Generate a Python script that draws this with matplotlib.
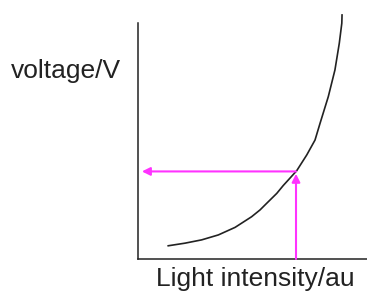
import matplotlib
matplotlib.use("Agg")
from matplotlib import pyplot as plt

# curve (light intensity / voltage, arbitrary units)
intensity = [1.32, 2.05, 2.78, 3.51, 4.24, 4.96, 5.33, 5.62, 6.06, 6.34, 6.93, 7.37, 7.73,
             7.95, 8.31, 8.60, 8.79, 8.90, 8.91]
voltage = [0.56, 0.67, 0.81, 1.02, 1.34, 1.79, 2.08, 2.36, 2.78, 3.11, 3.74, 4.41, 5.04,
           5.75, 6.88, 8.01, 9.14, 9.99, 10.34]
read_x = 6.90
read_y = 3.71
xlabel = "Light intensity/au"
ylabel = "voltage/V"

plt.rcParams['font.family'] = ['Liberation Sans', 'DejaVu Sans']

fig = plt.figure(figsize=(3.67, 2.91), dpi=100)
ax = fig.add_axes([0.376, 0.110, 0.624, 0.811])
ax.set_xlim(0, 10)
ax.set_ylim(0, 10)
ax.spines['top'].set_visible(False)
ax.spines['right'].set_visible(False)
for s in ['left', 'bottom']:
    ax.spines[s].set_color('#222222')
    ax.spines[s].set_linewidth(1.1)
ax.set_xticks([])
ax.set_yticks([])

ax.plot(intensity, voltage, color='#222222', lw=1.2, clip_on=False,
        solid_joinstyle='round')

pink = '#ff33ff'
ax.annotate('', xy=(0.17, read_y), xytext=(read_x, read_y),
            arrowprops=dict(arrowstyle='-|>', color=pink, lw=1.5,
                            mutation_scale=12, shrinkA=0, shrinkB=0))
ax.annotate('', xy=(read_x, read_y - 0.1), xytext=(read_x, 0),
            arrowprops=dict(arrowstyle='-|>', color=pink, lw=1.5,
                            mutation_scale=12, shrinkA=0, shrinkB=0),
            annotation_clip=False)

fig.text(66 / 367, 1 - 71 / 291, ylabel, ha='center', va='center', fontsize=19, color='#222222')
fig.text(255 / 367, 1 - 279 / 291, xlabel, ha='center', va='center', fontsize=19, color='#222222')

fig.savefig('out.png', dpi=100)
